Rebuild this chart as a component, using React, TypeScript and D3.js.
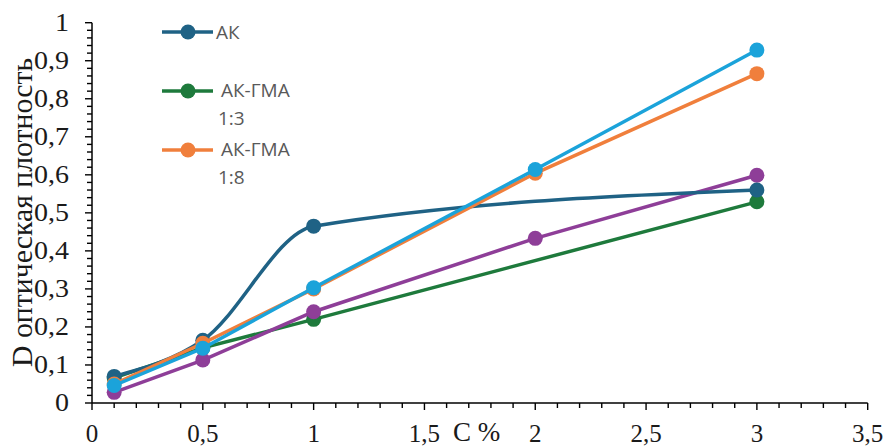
import React from "react";
import * as d3 from "d3";

const W = 886, H = 447;
const xTicks = [0, 0.5, 1, 1.5, 2, 2.5, 3, 3.5];
const yTicks = [0, 0.1, 0.2, 0.3, 0.4, 0.5, 0.6, 0.7, 0.8, 0.9, 1];

const akX = [0.1, 0.5, 1, 3];
const akY = [0.07, 0.165, 0.465, 0.56];
const gmaX13 = [0.1, 0.5, 1, 3];
const gmaY13 = [0.066, 0.145, 0.22, 0.529];
const gmaX18 = [0.1, 0.5, 1, 2, 3];
const gmaY18 = [0.05, 0.157, 0.3, 0.604, 0.866];
const cyanX = [0.1, 0.5, 1, 2, 3];
const cyanY = [0.046, 0.144, 0.303, 0.614, 0.928];
const purpleX = [0.1, 0.5, 1, 2, 3];
const purpleY = [0.028, 0.113, 0.24, 0.433, 0.599];

const series = [
  { name: "АК-ГМА 1:3", xs: gmaX13, ys: gmaY13, color: "#1E7A3C", smooth: false },
  { name: "purple", xs: purpleX, ys: purpleY, color: "#8E3E98", smooth: false },
  { name: "АК", xs: akX, ys: akY, color: "#1F6285", smooth: true },
  { name: "АК-ГМА 1:8", xs: gmaX18, ys: gmaY18, color: "#F07F3C", smooth: false },
  { name: "cyan", xs: cyanX, ys: cyanY, color: "#1BA3DA", smooth: false },
];

const legendNames = [["АК"], ["АК-ГМА", "1:3"], ["АК-ГМА", "1:8"]];
const legendColors = ["#1F6285", "#1E7A3C", "#F07F3C"];

export default function App() {
  const x = d3.scaleLinear().domain([0, 3.5]).range([92, 867.7]);
  const y = d3.scaleLinear().domain([0, 1]).range([403, 22.7]);
  const serif = "'Liberation Serif', 'Times New Roman', Times, 'DejaVu Serif', serif";
  const sans = "'Open Sans', 'Liberation Sans', sans-serif";
  const xMinor = d3.range(0, 36).map((i) => i / 10);
  const yMinor = d3.range(0, 51).map((i) => i / 50);
  const legendY = [32, 91, 150];

  return (
    <svg width={W} height={H} style={{ position: "absolute", left: 0, top: 0, background: "#fff" }}>
      <line x1={x(0)} x2={x(3.5)} y1={y(0)} y2={y(0)} stroke="#000" strokeWidth={1.5} />
      <line x1={x(0)} x2={x(0)} y1={y(0)} y2={y(1)} stroke="#000" strokeWidth={1.5} />
      {xMinor.map((v, i) => (
        <line key={"xm" + i} x1={x(v)} x2={x(v)} y1={y(0)} y2={y(0) + (i % 5 === 0 ? 7 : 5)} stroke="#000" strokeWidth={1.4} />
      ))}
      {yMinor.map((v, i) => (
        <line key={"ym" + i} x1={x(0) - (i % 5 === 0 ? 7 : 5)} x2={x(0)} y1={y(v)} y2={y(v)} stroke="#000" strokeWidth={1.4} />
      ))}
      {xTicks.map((v) => (
        <text key={"xt" + v} x={x(v)} y={442} textAnchor="middle" fontFamily={serif} fontSize={25} fill="#1a1a1a">
          {String(v).replace(".", ",")}
        </text>
      ))}
      {yTicks.map((v) => (
        <text key={"yt" + v} transform={`translate(69,${y(v) + 8}) scale(1.12,1)`} textAnchor="end" fontFamily={serif} fontSize={25} fill="#1a1a1a">
          {String(v).replace(".", ",")}
        </text>
      ))}
      <text x={453} y={441} fontFamily={serif} fontSize={27} fill="#1a1a1a">C %</text>
      <text transform={`translate(32,367) rotate(-90)`} textAnchor="start" fontFamily={serif} fontSize={30} fill="#1a1a1a" textLength={309} lengthAdjust="spacingAndGlyphs">
        D оптическая плотность
      </text>

      {series.map((s) => {
        const pts: [number, number][] = s.xs.map((v, i) => [x(v), y(s.ys[i])]);
        const gen = d3.line().curve(s.smooth ? d3.curveMonotoneX : d3.curveLinear);
        return (
          <g key={s.name}>
            <path d={gen(pts) || ""} fill="none" stroke={s.color} strokeWidth={3.5} />
            {pts.map((p, i) => (
              <circle key={i} cx={p[0]} cy={p[1]} r={7.5} fill={s.color} />
            ))}
          </g>
        );
      })}

      {legendNames.map((lines, i) => (
        <g key={"lg" + i}>
          <line x1={162} x2={213} y1={legendY[i]} y2={legendY[i]} stroke={legendColors[i]} strokeWidth={3.5} />
          <circle cx={188} cy={legendY[i]} r={7.5} fill={legendColors[i]} />
          {lines.map((t, j) => (
            <text key={j} x={j === 0 ? (lines.length > 1 ? 221 : 216) : 218} y={legendY[i] + (lines.length > 1 ? 6 : 7) + j * 28} fontFamily={sans} fontSize={19} fill="#595959">
              {t}
            </text>
          ))}
        </g>
      ))}
    </svg>
  );
}
